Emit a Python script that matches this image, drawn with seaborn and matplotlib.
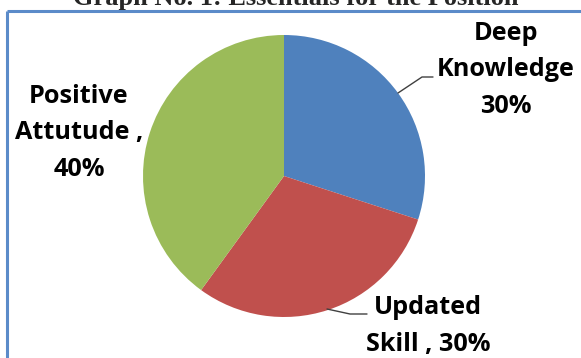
import matplotlib
matplotlib.use("Agg")
import matplotlib.pyplot as plt
from matplotlib.lines import Line2D
import seaborn as sns

# Chart data
categories = ["Deep Knowledge", "Updated Skill", "Positive Attutude"]
shares = [30, 30, 40]
label_layouts = ["Deep\nKnowledge\n{p}%", "Updated\nSkill , {p}%", "Positive\nAttutude ,\n{p}%"]
title = "Graph No. 1: Essentials for the Position"

sns.set_theme(style="white")
colors = ["#4F81BD", "#C0504D", "#9BBB59"]

W, H = 581, 358
fig = plt.figure(figsize=(W / 100, H / 100), dpi=100)
fig.patch.set_facecolor("white")
ax = fig.add_axes([0, 0, 1, 1])


def py(y):
    """Convert a top-down pixel row into axes data y."""
    return H - y


cx, cy, r = 284, 176, 141
ax.pie(shares, colors=colors, startangle=90, counterclock=False,
       center=(cx, py(cy)), radius=r, frame=True,
       wedgeprops=dict(linewidth=0))
ax.set_xlim(0, W)
ax.set_ylim(0, H)
ax.set_aspect("equal")
ax.axis("off")

# Chart frame
frame_kw = dict(color="#5B8BC9", linewidth=2.2, solid_capstyle="butt")
ax.add_line(Line2D([7, 7], [py(11), py(H + 5)], **frame_kw))
ax.add_line(Line2D([7, W + 5], [py(11), py(11)], **frame_kw))

# Leader lines
lead_kw = dict(color="#404040", linewidth=1.0)
ax.add_line(Line2D([398, 422, 433], [py(93), py(77), py(77)], **lead_kw))
ax.add_line(Line2D([327, 350, 367], [py(309), py(314), py(314)], **lead_kw))

# Slice labels
label_pos = [(506, 70), (428, 326), (79, 133)]
font_kw = dict(family=["Open Sans", "DejaVu Sans"], fontweight="bold",
               fontsize=18.2, color="black", linespacing=1.6,
               ha="center", va="center", multialignment="center")
for layout, p, (lx, ly) in zip(label_layouts, shares, label_pos):
    ax.text(lx, py(ly), layout.format(p=p), **font_kw)

# Title, partly above the figure edge
t = fig.text(296 / W, 1 - 5 / H, title, ha="center", va="baseline",
             family=["Liberation Serif", "DejaVu Serif"], fontweight="bold",
             fontsize=16)
fig.canvas.draw()
wpx = t.get_window_extent().width
t.set_fontsize(16 * 448 / wpx)

fig.savefig("out.png", dpi=100)
